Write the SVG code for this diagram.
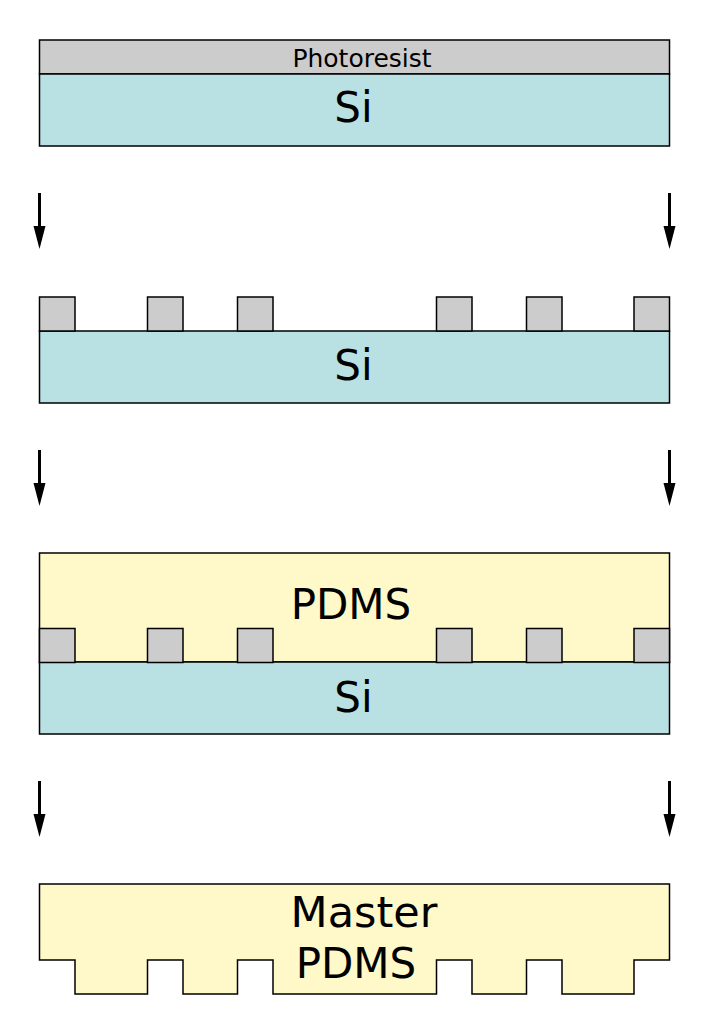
<svg xmlns="http://www.w3.org/2000/svg" width="708" height="1024" viewBox="0 0 708 1024">
<defs>
<style>
.pr{fill:#cccccc;stroke:#000;stroke-width:1.5}
.si{fill:#b9e0e3;stroke:#000;stroke-width:1.5}
.pd{fill:#fff8c8;stroke:#000;stroke-width:1.5}
.big{font-family:"DejaVu Sans",sans-serif;font-size:42px;fill:#000;text-anchor:middle}
.small{font-family:"DejaVu Sans",sans-serif;font-size:25px;fill:#000;text-anchor:middle}
.arr{stroke:#000;stroke-width:3;fill:none}
</style>
<g id="blocks">
<rect width="35.5" height="34" class="pr" x="0" y="0"/>
</g>
</defs>
<g id="step1">
<rect class="pr" x="39.5" y="40" width="630" height="34"/>
<rect class="si" x="39.5" y="74" width="630" height="72"/>
<text class="small" x="362" y="67">Photoresist</text>
<text class="big" x="353.5" y="122">Si</text>
</g>
<g id="step2">
<rect class="si" x="39.5" y="331" width="630" height="72"/>
<use href="#blocks" x="39.5" y="297"/>
<use href="#blocks" x="147.5" y="297"/>
<use href="#blocks" x="237.5" y="297"/>
<use href="#blocks" x="436.5" y="297"/>
<use href="#blocks" x="526.5" y="297"/>
<use href="#blocks" x="634" y="297"/>
<text class="big" x="353.5" y="380">Si</text>
</g>
<g id="step3">
<rect class="pd" x="39.5" y="553" width="630" height="109"/>
<rect class="si" x="39.5" y="662" width="630" height="72"/>
<use href="#blocks" x="39.5" y="628.5"/>
<use href="#blocks" x="147.5" y="628.5"/>
<use href="#blocks" x="237.5" y="628.5"/>
<use href="#blocks" x="436.5" y="628.5"/>
<use href="#blocks" x="526.5" y="628.5"/>
<use href="#blocks" x="634" y="628.5"/>
<text class="big" x="351" y="619">PDMS</text>
<text class="big" x="353.5" y="712">Si</text>
</g>
<g id="step4">
<path class="pd" d="M39.5,884 H669.5 V960 H634 V994 H562 V960 H526.5 V994 H472 V960 H436.5 V994 H273 V960 H237.5 V994 H183 V960 H147.5 V994 H75 V960 H39.5 Z"/>
<text class="big" x="364" y="926.5" style="font-size:43px">Master</text>
<text class="big" x="356" y="978">PDMS</text>
</g>
<g id="connectors">
<g id="a1">
<line class="arr" x1="39.5" y1="193" x2="39.5" y2="230"/>
<polygon points="33.5,226 45.5,226 39.5,249"/>
<line class="arr" x1="669.5" y1="193" x2="669.5" y2="230"/>
<polygon points="663.5,226 675.5,226 669.5,249"/>
</g>
<g id="a2">
<line class="arr" x1="39.5" y1="450" x2="39.5" y2="487"/>
<polygon points="33.5,483 45.5,483 39.5,506"/>
<line class="arr" x1="669.5" y1="450" x2="669.5" y2="487"/>
<polygon points="663.5,483 675.5,483 669.5,506"/>
</g>
<g id="a3">
<line class="arr" x1="39.5" y1="781" x2="39.5" y2="818"/>
<polygon points="33.5,814 45.5,814 39.5,837"/>
<line class="arr" x1="669.5" y1="781" x2="669.5" y2="818"/>
<polygon points="663.5,814 675.5,814 669.5,837"/>
</g>
</g>
</svg>
